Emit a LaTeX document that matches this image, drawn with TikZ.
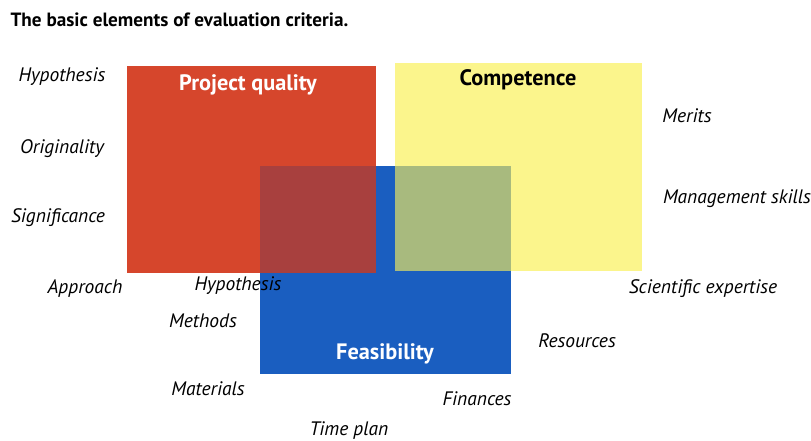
\documentclass[tikz,border=0pt]{standalone}
\usepackage{fontspec}
\setmainfont{PT Sans}
\usepackage{tikz}
\usepackage{xcolor}
\usetikzlibrary{shapes, positioning}

\definecolor{qualityred}{RGB}{214,70,44}
\definecolor{competenceyellow}{RGB}{251,245,140}
\definecolor{feasibilityblue}{RGB}{26,94,192}
\definecolor{redblue}{RGB}{168,64,62}
\definecolor{yellowblue}{RGB}{168,186,126}

\begin{document}
\begin{tikzpicture}[x=1pt, y=-1pt,
        block/.style={anchor=north west, inner sep=0pt, outer sep=0pt},
        heading/.style={font=\fontsize{22.3}{24}\selectfont\bfseries},
        item/.style={font=\fontsize{19.5}{22}\selectfont\itshape}]
        \useasboundingbox (0, 0) rectangle (811, 441);
        \node[anchor=west, font=\fontsize{19.2}{22}\selectfont\bfseries] (title) at (7, 20) {The basic elements of evaluation criteria.};

        % the three blocks
        \node[block, fill=feasibilityblue, minimum width=251pt, minimum height=208pt] (feasibility) at (260, 166) {};
        \node[block, fill=qualityred, minimum width=249pt, minimum height=207pt] (quality) at (127, 66) {};
        \node[block, fill=competenceyellow, minimum width=247pt, minimum height=208pt] (competence) at (395, 63) {};
        \fill[redblue] (feasibility.north west) rectangle (quality.south east);
        \fill[yellowblue] (feasibility.north -| competence.west) rectangle (feasibility.east |- competence.south);

        \node[heading, text=white] (qualityname) at (248, 85) {Project quality};
        \node[heading] (competencename) at (518, 80) {Competence};
        \node[heading, text=white] (feasibilityname) at (385, 354) {Feasibility};

        % criteria
        \node[item] (hypothesis) at (62, 77) {Hypothesis};
        \node[item] (originality) at (62, 149) {Originality};
        \node[item] (significance) at (58, 218) {Significance};
        \node[item] (approach) at (85, 289) {Approach};
        \node[item] (hypothesistwo) at (238, 286) {Hypothesis};
        \node[item] (methods) at (203, 321) {Methods};
        \node[item] (materials) at (208, 389) {Materials};
        \node[item] (timeplan) at (349, 431) {Time plan};
        \node[item] (finances) at (477, 399) {Finances};
        \node[item] (resources) at (577, 341) {Resources};
        \node[item] (expertise) at (703, 289) {Scientific expertise};
        \node[item] (management) at (737, 199) {Management skills};
        \node[item] (merits) at (687, 116) {Merits};
    \end{tikzpicture}
\end{document}
